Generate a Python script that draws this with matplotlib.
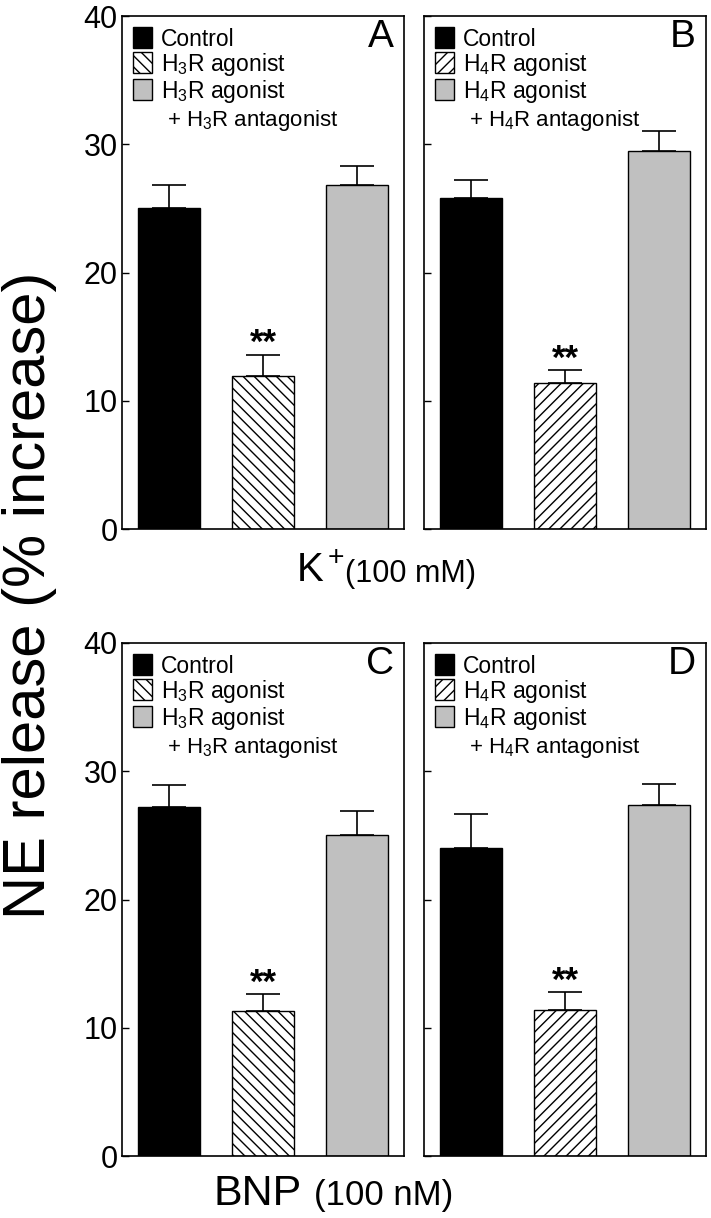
import matplotlib
matplotlib.use('Agg')
import matplotlib.pyplot as plt
from matplotlib.patches import Patch
import numpy as np

plt.rcParams['font.family'] = ['Liberation Sans', 'DejaVu Sans']
plt.rcParams['mathtext.fontset'] = 'custom'
plt.rcParams['mathtext.rm'] = 'Liberation Sans'
plt.rcParams['mathtext.it'] = 'Liberation Sans:italic'
plt.rcParams['mathtext.bf'] = 'Liberation Sans:bold'
plt.rcParams['hatch.linewidth'] = 1.0

# - DATA -
panels = ['A', 'B', 'C', 'D']
receptor = ['3', '4', '3', '4']
control_mean = [25.0, 25.8, 27.2, 24.0]
control_err = [1.8, 1.4, 1.7, 2.7]
agonist_mean = [11.9, 11.4, 11.3, 11.4]
agonist_err = [1.7, 1.0, 1.3, 1.4]
antag_mean = [26.8, 29.5, 25.0, 27.4]
antag_err = [1.5, 1.5, 1.9, 1.6]
yticks = [0, 10, 20, 30, 40]
# - DATA -

W, H = 711, 1218
fig = plt.figure(figsize=(W / 100, H / 100), dpi=100)

gray = '#c0c0c0'
ax_w, ax_h = 282, 513
lefts = [122, 424, 122, 424]
tops = [16, 16, 643, 643]
hatches = ['\\\\\\', '///', '\\\\\\', '///']

x = np.array([0.5, 1.5, 2.5])
for i, p in enumerate(panels):
    ax = fig.add_axes([lefts[i] / W, 1 - (tops[i] + ax_h) / H, ax_w / W, ax_h / H])
    vals = [control_mean[i], agonist_mean[i], antag_mean[i]]
    errs = [control_err[i], agonist_err[i], antag_err[i]]
    ax.bar(x, vals, width=0.67, color=['black', 'white', gray],
           edgecolor='black', linewidth=1,
           hatch=[None, hatches[i], None], zorder=2)
    ax.errorbar(x, vals, yerr=[np.zeros(3), errs], fmt='none', ecolor='black',
                elinewidth=1.2, capsize=12, capthick=1.2, zorder=1)
    # significance marks
    ax.text(x[1], vals[1] + errs[1] + 0.1, '**', ha='center', va='baseline',
            fontsize=25, fontweight='bold')

    ax.set_xlim(0, 3)
    ax.set_ylim(0, 40)
    ax.set_xticks([])
    ax.set_yticks(yticks)
    ax.tick_params(axis='y', direction='in', length=5, width=1, labelsize=22, pad=3)
    if i % 2 == 1:
        ax.set_yticklabels([])
    for s in ax.spines.values():
        s.set_linewidth(1.2)

    r = receptor[i]
    handles = [Patch(facecolor='black', edgecolor='black', linewidth=1),
               Patch(facecolor='white', edgecolor='black', hatch=hatches[i], linewidth=1),
               Patch(facecolor=gray, edgecolor='black', linewidth=1)]
    labels = ['Control', 'H$_%s$R agonist' % r, 'H$_%s$R agonist' % r]
    ax.legend(handles, labels, loc='upper left', bbox_to_anchor=(0, 1),
              frameon=False, fontsize=16.5, handlelength=0.8, handleheight=1.0,
              handletextpad=0.4, labelspacing=0.0, borderaxespad=0.2, borderpad=0.3)
    ax.text(0.16, 1 - 110 / ax_h, '+ H$_%s$R antagonist' % r, fontsize=16,
            ha='left', va='baseline', transform=ax.transAxes)
    ax.text(1 - 10 / ax_w, 1 - 3 / ax_h, p, fontsize=28, ha='right', va='top',
            transform=ax.transAxes)

fig.text(30 / W, 1 - 595 / H, 'NE release (% increase)', rotation=90,
         ha='center', va='center', fontsize=43)

fig.text(345 / W, 1 - 582 / H, 'K$^+$', ha='right', va='baseline', fontsize=29)
fig.text(345 / W, 1 - 582 / H, '(100 mM)', ha='left', va='baseline', fontsize=22)
fig.text(302 / W, 1 - 1205 / H, 'BNP', ha='right', va='baseline', fontsize=31)
fig.text(314 / W, 1 - 1205 / H, '(100 nM)', ha='left', va='baseline', fontsize=25)

fig.savefig('out.png', dpi=100)
